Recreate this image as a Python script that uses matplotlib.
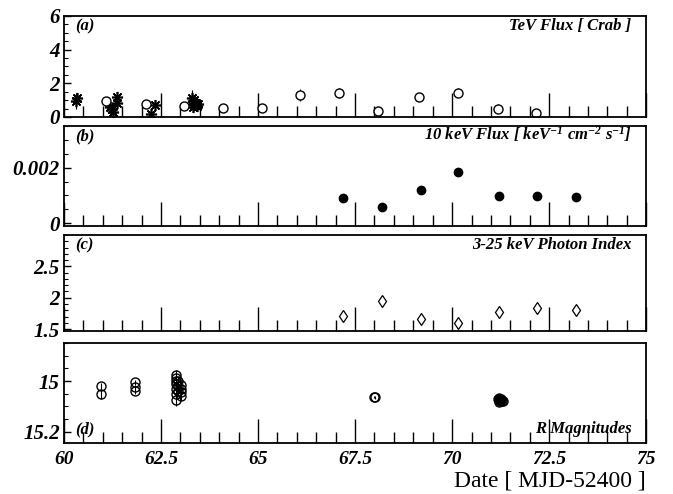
import numpy as np
import matplotlib
matplotlib.use("Agg")
from matplotlib import pyplot as plt
from matplotlib.ticker import MultipleLocator

plt.rcParams['font.family'] = 'Liberation Serif'
plt.rcParams['mathtext.fontset'] = 'custom'
plt.rcParams['mathtext.rm'] = 'Liberation Serif:bold:italic'
plt.rcParams['mathtext.it'] = 'Liberation Serif:bold:italic'

# (a) TeV flux, open circles (one instrument) and asterisks (another)
tev_circ_x = [61.08, 62.11, 63.1, 64.1, 65.1, 66.08, 67.08, 68.1, 69.15, 70.15, 71.18, 72.16]
tev_circ_y = [0.95, 0.8, 0.65, 0.55, 0.55, 1.3, 1.42, 0.35, 1.2, 1.45, 0.5, 0.22]
tev_circ_e = [0.25, 0.2, 0.2, 0.2, 0.2, 0.35, 0.3, 0.25, 0.25, 0.25, 0.25, 0.2]
tev_star_x = [60.3, 60.33, 61.18, 61.23, 61.25, 61.36, 61.37, 62.23, 62.35,
              63.30, 63.32, 63.33, 63.34, 63.36, 63.38, 63.40, 63.42, 63.44]
tev_star_y = [0.95, 1.15, 0.6, 0.45, 0.3, 1.2, 0.85, 0.2, 0.72,
              1.15, 0.95, 0.6, 0.8, 1.0, 0.7, 0.85, 0.65, 0.75]
tev_star_e = [0.45, 0.3, 0.35, 0.3, 0.3, 0.3, 0.3, 0.25, 0.3,
              0.45, 0.3, 0.3, 0.3, 0.3, 0.3, 0.3, 0.3, 0.3]

# (b) 10 keV flux
xray_x = [67.2, 68.2, 69.2, 70.15, 71.2, 72.2, 73.2]
xray_flux = [0.00090, 0.00057, 0.00119, 0.00184, 0.00097, 0.00097, 0.00093]

# (c) photon index
xray_index = [1.71, 1.95, 1.66, 1.59, 1.77, 1.84, 1.80]

# (d) R magnitudes
rmag_x = [60.95, 60.95, 61.83, 61.83, 61.83,
          62.88, 62.88, 62.88, 62.88, 62.88, 62.88, 62.88,
          62.95, 62.95, 62.95, 63.02, 63.02, 63.02, 63.02,
          68.0, 68.02,
          71.18, 71.2, 71.22, 71.24, 71.26, 71.28, 71.2, 71.23, 71.27, 71.3]
rmag_y = [15.02, 15.05, 15.005, 15.025, 15.04,
          14.975, 14.99, 15.0, 15.01, 15.03, 15.05, 15.075,
          15.0, 15.02, 15.04, 15.015, 15.03, 15.045, 15.06,
          15.063, 15.065,
          15.07, 15.075, 15.068, 15.078, 15.072, 15.08, 15.082, 15.07, 15.076, 15.079]
rmag_e = [0.012, 0.02, 0.01, 0.01, 0.01,
          0.02, 0.015, 0.015, 0.015, 0.015, 0.02, 0.025,
          0.015, 0.015, 0.015, 0.015, 0.015, 0.015, 0.015,
          0.005, 0.005,
          0.01, 0.01, 0.01, 0.01, 0.01, 0.01, 0.01, 0.01, 0.01, 0.01]

xticks = [60, 62.5, 65, 67.5, 70, 72.5, 75]
xticklabels = ['60', '62.5', '65', '67.5', '70', '72.5', '75']

fig = plt.figure(figsize=(6.73, 4.94), dpi=100)
boxes = [(0.7632, 0.2045), (0.5425, 0.2024), (0.3300, 0.1943), (0.1032, 0.2024)]
axes = [fig.add_axes([0.0951, b, 0.865, h]) for b, h in boxes]

ytickfont = dict(family='Liberation Serif', weight='bold', style='italic', size=15)
xtickfont = dict(family='Liberation Serif', weight='bold', style='italic', size=14)
lblfont = dict(family='Liberation Serif', weight='bold', style='italic', size=12)

for ax in axes:
    ax.set_xlim(60, 75)
    ax.xaxis.set_major_locator(MultipleLocator(2.5))
    ax.xaxis.set_minor_locator(MultipleLocator(0.5))
    ax.tick_params(axis='x', which='major', direction='in', length=17, width=1, top=False)
    ax.tick_params(axis='x', which='minor', direction='in', length=8, width=1, top=False)
    ax.tick_params(axis='y', which='major', direction='in', length=5, width=1, right=False, pad=3)
    ax.tick_params(axis='y', which='minor', direction='in', length=3, width=0.8, right=False)
    for s in ax.spines.values():
        s.set_linewidth(1.3)

# (a)
ax = axes[0]
ax.errorbar(tev_circ_x, tev_circ_y, yerr=tev_circ_e, fmt='o', ms=6.5, mfc='white',
            mec='black', mew=1, ecolor='black', elinewidth=0.8, capsize=0)
ax.errorbar(tev_star_x, tev_star_y, yerr=tev_star_e, fmt='none', ecolor='black',
            elinewidth=0.8, capsize=0)
ax.plot(tev_star_x, tev_star_y, ls='none', marker=(8, 2, 0), ms=8, mec='black', mew=1.2)
ax.set_ylim(0, 6)
ax.set_yticks([0, 2, 4, 6])
ax.yaxis.set_minor_locator(MultipleLocator(0.5))
ax.text(0.02, 0.86, '(a)', transform=ax.transAxes, **lblfont)
ax.text(0.975, 0.86, 'TeV Flux [ Crab ]', transform=ax.transAxes, ha='right', **lblfont)

# (b)
ax = axes[1]
ax.plot(xray_x, xray_flux, 'o', ms=6, color='black')
ax.set_ylim(-0.0001, 0.0035)
ax.set_yticks([0, 0.002])
ax.set_yticklabels(['0', '0.002'])
ax.yaxis.set_minor_locator(MultipleLocator(0.0005))
ax.text(0.02, 0.86, '(b)', transform=ax.transAxes, **lblfont)
ax.text(0.975, 0.86, r'10 keV Flux [ keV$^{-1}$ cm$^{-2}$ s$^{-1}$]', transform=ax.transAxes,
        ha='right', **lblfont)

# (c)
ax = axes[2]
ax.plot(xray_x, xray_index, 'd', ms=6.5, mfc='white', mec='black', mew=0.9)
ax.set_ylim(1.47, 3.0)
ax.set_yticks([1.5, 2, 2.5])
ax.set_yticklabels(['1.5', '2', '2.5'])
ax.yaxis.set_minor_locator(MultipleLocator(0.1))
ax.text(0.02, 0.85, '(c)', transform=ax.transAxes, **lblfont)
ax.text(0.975, 0.85, '3-25 keV Photon Index', transform=ax.transAxes, ha='right', **lblfont)

# (d)
ax = axes[3]
ax.errorbar(rmag_x, rmag_y, yerr=rmag_e, fmt='o', ms=6.5, mfc='none', mec='black',
            mew=1, ecolor='black', elinewidth=0.8, capsize=0)
ax.set_ylim(15.245, 14.85)
ax.set_yticks([15, 15.2])
ax.set_yticklabels(['15', '15.2'])
ax.yaxis.set_minor_locator(MultipleLocator(0.05))
ax.text(0.02, 0.1, '(d)', transform=ax.transAxes, **lblfont)
ax.text(0.975, 0.1, 'R Magnitudes', transform=ax.transAxes, ha='right', **lblfont)
ax.set_xticks(xticks)
ax.set_xticklabels(xticklabels)
for t in ax.get_xticklabels():
    t.set(**xtickfont)
ax.tick_params(axis='x', which='major', pad=6)

for ax in axes[:3]:
    ax.set_xticklabels([])
for ax in axes:
    for t in ax.get_yticklabels():
        t.set(**ytickfont)

fig.text(0.96, 0.026, 'Date [ MJD-52400 ]', ha='right', va='center',
         family='Liberation Serif', size=17)

fig.savefig('out.png', dpi=100)
